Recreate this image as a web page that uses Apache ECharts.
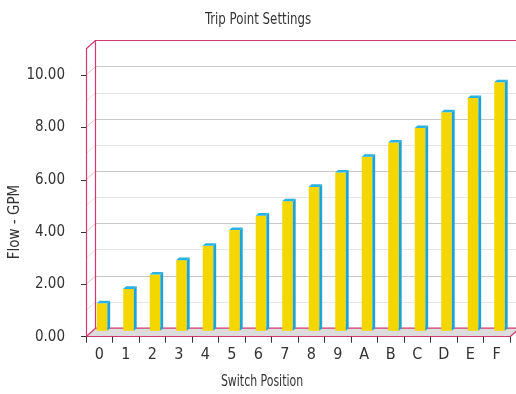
<!DOCTYPE html>
<html><head><meta charset="utf-8">
<script src="https://cdn.jsdelivr.net/npm/echarts@6/dist/echarts.min.js"></script>
<style>html,body{margin:0;padding:0;background:#fff}#c{width:516px;height:394px}</style>
</head><body><div id="c"></div>
<script>
const categories = ['0','1','2','3','4','5','6','7','8','9','A','B','C','D','E','F'];
const flowGpm = [1.05, 1.6, 2.15, 2.7, 3.25, 3.85, 4.4, 4.95, 5.5, 6.05, 6.65, 7.2, 7.75, 8.35, 8.9, 9.5];
const yTickValues = [0, 2, 4, 6, 8, 10];
const yMax = 11;

const FONT = '"Liberation Sans Narrow","DejaVu Sans Condensed","Arial Narrow",sans-serif';
const DX = 9.5, DY = -8.5;
const RED = '#D13A6B';
const YELLOW = '#F4D700', CYAN = '#1CA4D6', CYAN_TOP = '#2AB2E0';
const front = {left: 86, top: 49, width: 424, height: 287.7};
const back = {left: front.left + DX, top: front.top + DY, width: front.width, height: front.height};

function frameItem(params, api) {
  const cs = params.coordSys;
  const x0 = cs.x, x1 = cs.x + cs.width, yb = cs.y + cs.height, yt = cs.y;
  const children = [];
  children.push({type: 'polygon', shape: {points: [[x0, yb], [x1, yb], [x1 + DX, yb + DY], [x0 + DX, yb + DY]]}, style: {fill: '#DCDCDC'}});
  for (let v = 1; v < yMax; v++) {
    const y = api.coord([0, v])[1];
    children.push({type: 'line', shape: {x1: x0, y1: y, x2: x0 + DX, y2: y + DY}, style: {stroke: v % 2 ? '#EEDDE3' : '#E2C6D0', lineWidth: 1}});
  }
  [[x0, yb], [x0, yt], [x1, yb]].forEach(p => children.push({type: 'line', shape: {x1: p[0], y1: p[1], x2: p[0] + DX, y2: p[1] + DY}, style: {stroke: RED, lineWidth: 1.2}}));
  children.push({type: 'line', shape: {x1: x0 + DX, y1: yb + DY, x2: x1 + DX, y2: yb + DY}, style: {stroke: RED, lineWidth: 1.2}});
  return {type: 'group', children};
}

function barItem(params, api) {
  const i = api.value(0), v = api.value(1);
  const top = api.coord([i, v]), base = api.coord([i, 0]);
  const band = api.size([1, 0])[0];
  const fw = band * 0.4, shift = band * 0.105;
  const sdx = DX * 0.3, sdy = DY * 0.3;
  const L = top[0] + shift - fw / 2, R = L + fw;
  const yT = top[1] + DY * 0.7, yB = base[1] + DY * 0.7;
  return {type: 'group', children: [
    {type: 'rect', shape: {x: L, y: yT, width: fw, height: yB - yT}, style: {fill: YELLOW}},
    {type: 'polygon', shape: {points: [[R, yT], [R + sdx, yT + sdy], [R + sdx, yB + sdy], [R, yB]]}, style: {fill: CYAN}},
    {type: 'polygon', shape: {points: [[L, yT], [L + sdx, yT + sdy], [R + sdx, yT + sdy], [R, yT]]}, style: {fill: CYAN_TOP}}
  ]};
}

const chart = echarts.init(document.getElementById('c'), null, {renderer: 'canvas'});
chart.setOption({
  animation: false,
  backgroundColor: '#fff',
  graphic: [
    {type: 'text', x: 258, y: 20, scaleX: 0.82, style: {text: 'Trip Point Settings', textAlign: 'center', textVerticalAlign: 'middle', fontFamily: FONT, fontSize: 16, fill: '#333'}},
    {type: 'text', x: 262, y: 382, scaleX: 0.76, style: {text: 'Switch Position', textAlign: 'center', textVerticalAlign: 'middle', fontFamily: FONT, fontSize: 16, fill: '#333'}},
    {type: 'text', x: 15, y: 222, rotation: Math.PI / 2, style: {text: 'Flow - GPM', textAlign: 'center', textVerticalAlign: 'middle', fontFamily: FONT, fontSize: 15, fill: '#333'}}
  ],
  grid: [
    {left: front.left, top: front.top, width: front.width, height: front.height},
    {left: back.left, top: back.top, width: back.width, height: back.height}
  ],
  xAxis: [
    {gridIndex: 0, type: 'category', data: categories, z: 4,
      axisLine: {onZero: false, lineStyle: {color: RED, width: 1.2}},
      axisTick: {show: true, length: 6, lineStyle: {color: '#333'}},
      axisLabel: {fontFamily: FONT, fontSize: 16, color: '#333', margin: 10},
      splitLine: {show: false}},
    {gridIndex: 1, type: 'category', data: categories, position: 'top', z: 2,
      axisLine: {onZero: false, lineStyle: {color: RED, width: 1.2}}, axisTick: {show: false}, axisLabel: {show: false}, splitLine: {show: false}}
  ],
  yAxis: [
    {gridIndex: 0, type: 'value', min: 0, max: yMax, interval: 1, z: 4,
      axisLine: {show: true, lineStyle: {color: RED, width: 1.2}},
      axisTick: {show: true, length: 5, customValues: yTickValues, lineStyle: {color: '#333'}},
      axisLabel: {customValues: yTickValues, formatter: v => v.toFixed(2), fontFamily: FONT, fontSize: 15, color: '#333', margin: 21, padding: [4, 0, 0, 0]},
      splitLine: {show: false}},
    {gridIndex: 1, type: 'value', min: 0, max: yMax, interval: 1, z: 2,
      axisLine: {show: true, lineStyle: {color: RED, width: 1.2}},
      axisTick: {show: false}, axisLabel: {show: false},
      splitLine: {show: true, showMinLine: false, showMaxLine: false, lineStyle: {color: ['#E6E6E6', '#C9C9C9']}}}
  ],
  series: [
    {type: 'custom', xAxisIndex: 0, yAxisIndex: 0, z: 1, silent: true, renderItem: frameItem, data: [[0, 0]]},
    {type: 'custom', xAxisIndex: 0, yAxisIndex: 0, z: 3, renderItem: barItem, encode: {x: 0, y: 1},
      data: flowGpm.map((v, i) => [i, v])}
  ]
});
</script></body></html>
